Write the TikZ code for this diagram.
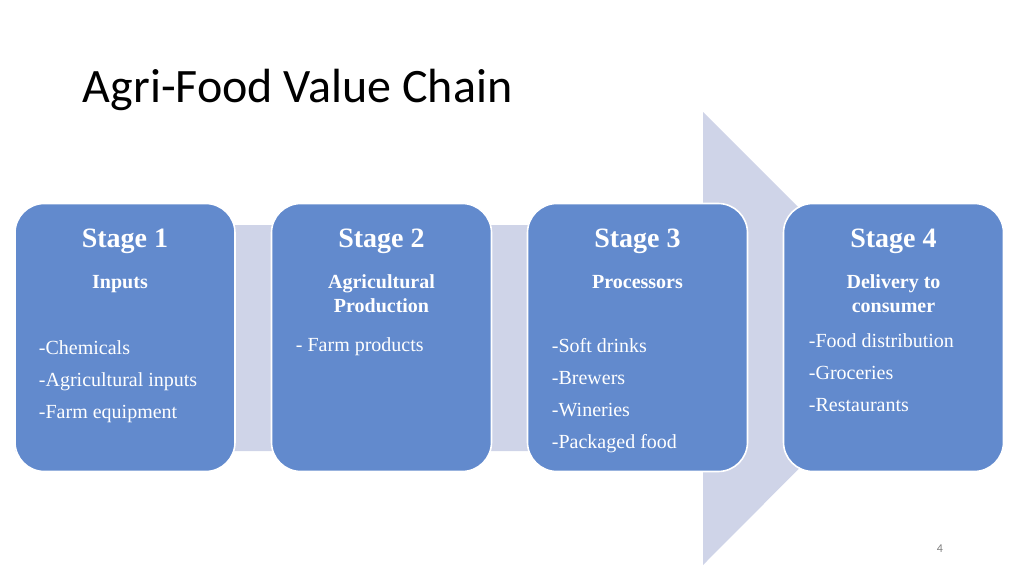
\documentclass[tikz,border=0pt]{standalone}
\usepackage{fontspec}
\setmainfont{Liberation Serif}
\newfontfamily\titlefont{Carlito}
\definecolor{arrowBg}{RGB}{207,212,232}
\definecolor{stageBlue}{RGB}{98,138,205}
\tikzset{every picture/.style={line width=0.75pt}}
\tikzset{
  stage/.style={draw=white, line width=1.2pt, fill=stageBlue, rounded corners=22pt, minimum width=165pt, minimum height=201pt, inner sep=0pt},
  head/.style={text=white, font=\bfseries\fontsize{21}{25}\selectfont, anchor=north},
  sub/.style={text=white, font=\bfseries\fontsize{15}{18}\selectfont, align=center, anchor=north},
  items/.style={text=white, font=\fontsize{15}{24}\selectfont, align=left, anchor=north west}
}
\begin{document}
\begin{tikzpicture}[x=0.75pt,y=0.75pt,yscale=-1,xscale=1]
\useasboundingbox (0,0) rectangle (1024,575);

%Shape: Arrow
\fill [arrowBg] (15,225) -- (703,225) -- (703,112) -- (929,338) -- (703,565) -- (703,451) -- (15,451) -- cycle ;

%Stages
\node [stage] (s1) at (125,337.5) {};
\node [stage] (s2) at (381.5,337.5) {};
\node [stage] (s3) at (637.5,337.5) {};
\node [stage] (s4) at (893.5,337.5) {};

% Text Node
\node [anchor=base west, font=\titlefont\fontsize{36}{40}\selectfont] (title) at (78,102) {Agri-Food Value Chain};
% Text Node
\node [head] (h1) at (125,224) {Stage 1};
\node [head] (h2) at (381.5,224) {Stage 2};
\node [head] (h3) at (637.5,224) {Stage 3};
\node [head] (h4) at (893.5,224) {Stage 4};
% Text Node
\node [sub] (p1) at (120,270) {Inputs};
\node [sub] (p2) at (381.5,270) {Agricultural\\Production};
\node [sub] (p3) at (637.5,270) {Processors};
\node [sub] (p4) at (893.5,270) {Delivery to\\consumer};
% Text Node
\node [items] (l1) at (34,336) {-Chemicals\\-Agricultural inputs\\-Farm equipment};
\node [items] (l2) at (291,333) {- Farm products};
\node [items] (l3) at (547,333) {-Soft drinks\\-Brewers\\-Wineries\\-Packaged food};
\node [items] (l4) at (804,329) {-Food distribution\\-Groceries\\-Restaurants};
% Text Node
\node [text=gray, font=\titlefont\fontsize{9}{10}\selectfont] (pg) at (940,549) {4};

\end{tikzpicture}
\end{document}
